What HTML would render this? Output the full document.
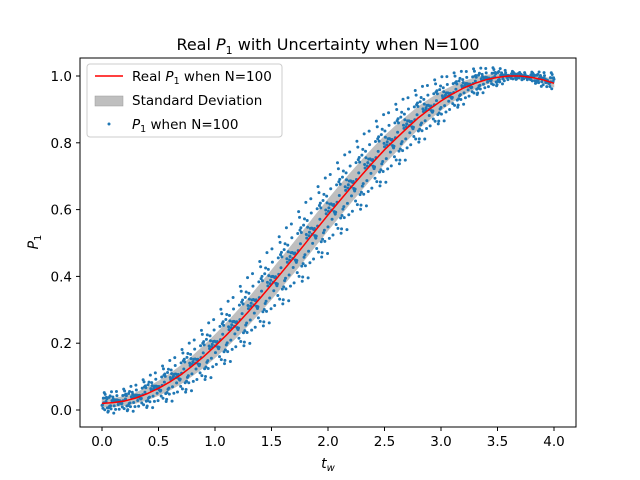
<!DOCTYPE html>
<html><head><meta charset="utf-8"><style>
body{margin:0;background:#fff}
svg{display:block;font-family:"DejaVu Sans","Liberation Sans",sans-serif}
</style></head><body>
<svg id="chart" width="640" height="480">
<rect x="0" y="0" width="640" height="480" fill="#fff"/>
<text x="328" y="50" text-anchor="middle" font-size="16">Real <tspan font-style="italic">P</tspan><tspan font-size="11" dy="4">1</tspan><tspan dy="-4"> with Uncertainty when N=100</tspan></text>
<g id="plot"></g>
<rect x="80" y="58" width="496" height="369" fill="none" stroke="#000" stroke-width="1"/>
<g id="xticks"></g>
<g id="yticks"></g>
<text x="328" y="468" text-anchor="middle" font-size="14" font-style="italic">t<tspan font-size="10" dy="3">w</tspan></text>
<text transform="translate(38,242) rotate(-90)" text-anchor="middle" font-size="14"><tspan font-style="italic">P</tspan><tspan font-size="10" dy="3">1</tspan></text>
<g>
<rect x="87" y="64" width="195" height="73" rx="3" fill="#fff" fill-opacity="0.8" stroke="#ccc"/>
<line x1="95" y1="76" x2="123" y2="76" stroke="red" stroke-width="1.5"/>
<text x="132" y="81" font-size="13.5">Real <tspan font-style="italic">P</tspan><tspan font-size="9.5" dy="3">1</tspan><tspan dy="-3"> when N=100</tspan></text>
<rect x="95" y="96" width="28" height="10" fill="#bfbfbf" stroke="#999" stroke-width="0.5"/>
<text x="132" y="105" font-size="13.5">Standard Deviation</text>
<circle cx="109" cy="124" r="1.5" fill="#1f77b4"/>
<text x="132" y="129" font-size="13.5"><tspan font-style="italic">P</tspan><tspan font-size="9.5" dy="3">1</tspan><tspan dy="-3"> when N=100</tspan></text>
</g>
</svg>
<script>
const tValues=[0,0.1,0.2,0.3,0.4,0.5,0.6,0.7,0.8,0.9,1.0,1.1,1.2,1.3,1.4,1.5,1.6,1.7,1.8,1.9,2.0,2.1,2.2,2.3,2.4,2.5,2.6,2.7,2.8,2.9,3.0,3.1,3.2,3.3,3.4,3.5,3.6,3.7,3.8,3.9,4.0];
const realP1=[0.020,0.022,0.027,0.036,0.049,0.065,0.084,0.106,0.132,0.160,0.191,0.224,0.259,0.296,0.335,0.375,0.416,0.457,0.499,0.542,0.584,0.625,0.665,0.704,0.742,0.779,0.812,0.844,0.875,0.901,0.925,0.946,0.964,0.978,0.989,0.996,1.000,1.000,0.996,0.989,0.978];
const stdP1=[0.012,0.013,0.014,0.016,0.019,0.022,0.025,0.028,0.030,0.033,0.035,0.037,0.039,0.041,0.043,0.044,0.045,0.046,0.047,0.047,0.047,0.047,0.046,0.045,0.044,0.042,0.040,0.037,0.034,0.031,0.028,0.024,0.020,0.017,0.014,0.011,0.006,0.004,0.006,0.009,0.012];
const residuals=[0.3,-1.2,0.8,1.9,-0.4,-2.1,1.1,0.1,-0.9,2.4,-1.6,0.6,-0.2,1.4,-2.6,0.9,-0.7,0.2,1.7,-1.3,-0.1,2.0,-0.5,-1.8,1.2,0.4,-1.0,2.8,-0.3,0.7,-2.3,1.5,0.0,-1.4,0.5,3.1,-0.8,1.0,-2.0,0.2,1.3,-0.6,-3.0];
const xTicks=[0,0.5,1.0,1.5,2.0,2.5,3.0,3.5,4.0];
const yTicks=[0,0.2,0.4,0.6,0.8,1.0];
const NS="http://www.w3.org/2000/svg";
const X=t=>102+t*113, Y=v=>410-v*334;
const plot=document.getElementById('plot');
function mk(tag,attrs,parent){const e=document.createElementNS(NS,tag);for(const k in attrs)e.setAttribute(k,attrs[k]);parent.appendChild(e);return e;}
function interp(arr,t){const i=Math.min(Math.floor(t/0.1),arr.length-2);const f=(t-tValues[i])/0.1;return arr[i]*(1-f)+arr[i+1]*f;}
let up=[],dn=[];
tValues.forEach((t,i)=>{up.push(X(t)+','+Y(realP1[i]+stdP1[i]));dn.unshift(X(t)+','+Y(realP1[i]-stdP1[i]));});
const band=mk('polygon',{points:up.concat(dn).join(' '),fill:'#bfbfbf',stroke:'#bfbfbf','stroke-width':'0.5'},plot);


const sg=mk('g',{fill:'#1f77b4'},plot);


const L=residuals.length;
for(let k=0;k<=1000;k++){
  const t=k*0.004;
  const r=residuals[(k*7)%L]*0.6+residuals[(k*k+3*k)%L]*0.5+residuals[(k*11+5)%L]*0.4;
  const v=interp(realP1,t)+r*interp(stdP1,t);
  const c=mk('circle',{cx:X(t),cy:Y(v),r:1.5},sg);
  
  
}
const ln=mk('polyline',{points:tValues.map((t,i)=>X(t)+','+Y(realP1[i])).join(' '),fill:'none',stroke:'red','stroke-width':'1.5'},plot);


const xg=document.getElementById('xticks'),yg=document.getElementById('yticks');
xTicks.forEach(t=>{
  const l=mk('line',{x1:X(t),x2:X(t),y1:427,y2:431,stroke:'#000'},xg);
  
  
  const s=mk('text',{x:X(t),y:446,'text-anchor':'middle','font-size':'13.5'},xg);
  s.textContent=t.toFixed(1);
  
  
});
yTicks.forEach(v=>{
  const l=mk('line',{x1:76,x2:80,y1:Y(v),y2:Y(v),stroke:'#000'},yg);
  
  
  const s=mk('text',{x:72,y:Y(v)+5,'text-anchor':'end','font-size':'13.5'},yg);
  s.textContent=v.toFixed(1);
  
  
});
</script>
</body></html>
